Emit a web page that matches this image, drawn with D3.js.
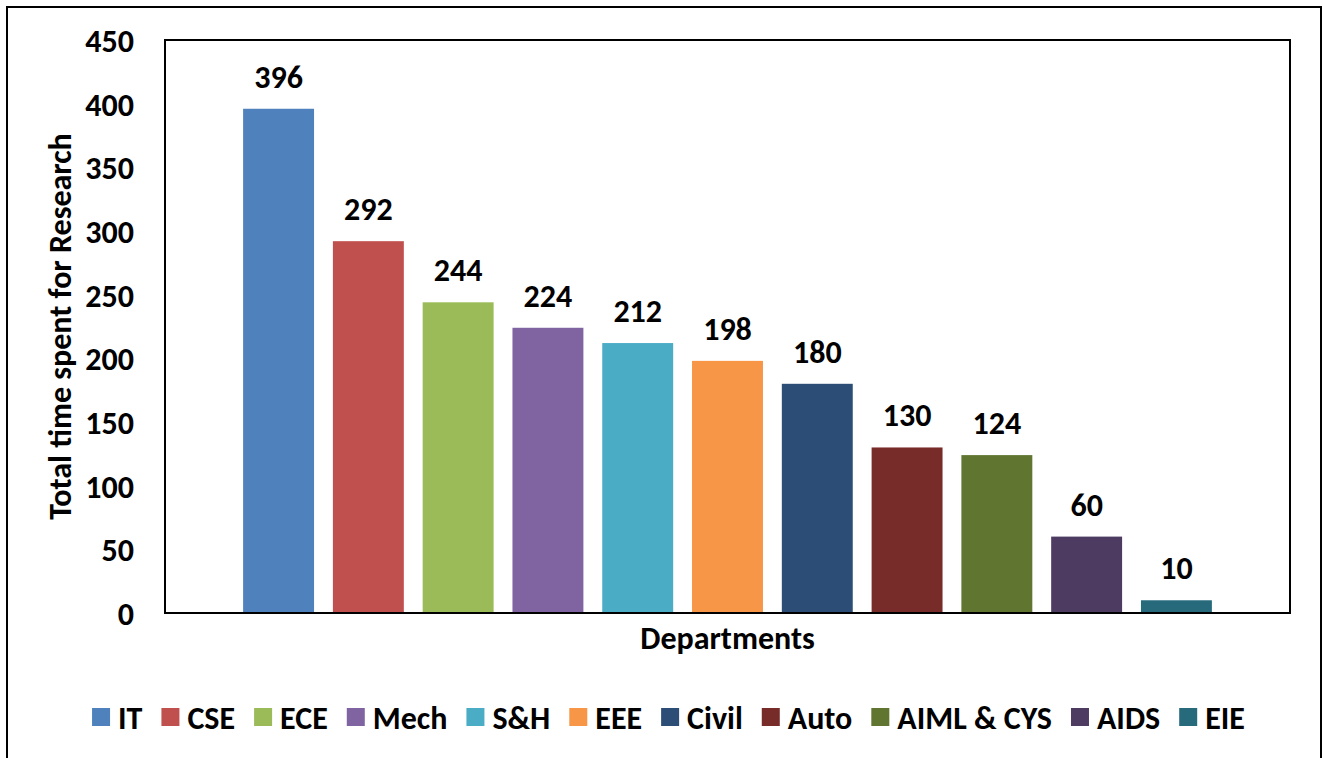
<!DOCTYPE html>
<html>
<head>
<meta charset="utf-8">
<script src="https://cdn.jsdelivr.net/npm/d3@7"></script>
<style>
  body { margin: 0; background: #fff; }
  svg text { font-family: Calibri, Carlito, Lato, sans-serif; font-weight: bold; fill: #000; }
</style>
</head>
<body>
<svg id="chart" width="1323" height="758"></svg>
<script>
const departments = ["IT", "CSE", "ECE", "Mech", "S&H", "EEE", "Civil", "Auto", "AIML & CYS", "AIDS", "EIE"];
const hours = [396, 292, 244, 224, 212, 198, 180, 130, 124, 60, 10];
const colors = ["#4F81BD", "#C0504D", "#9BBB59", "#8064A2", "#4BACC6", "#F79646",
                "#2C4D75", "#772C2A", "#5F7530", "#4D3B62", "#276A7C"];
const yTicks = [0, 50, 100, 150, 200, 250, 300, 350, 400, 450];

const svg = d3.select("#chart");
const plot = { left: 165, right: 1290, top: 40, bottom: 613 };

// outer frame
svg.append("rect")
  .attr("x", 7).attr("y", 7)
  .attr("width", 1314).attr("height", 780)
  .attr("fill", "none")
  .attr("stroke", "#000")
  .attr("stroke-width", 2);

const x = d3.scaleBand()
  .domain(departments)
  .range([plot.left, plot.right])
  .paddingInner(0.21)
  .paddingOuter(0.87);

const y = d3.scaleLinear()
  .domain([0, 450])
  .range([plot.bottom, plot.top]);

// y axis labels
const yAxis = svg.append("g")
  .attr("transform", `translate(${plot.left},0)`)
  .call(d3.axisLeft(y).tickValues(yTicks).tickSize(0).tickPadding(31));
yAxis.select(".domain").remove();
yAxis.selectAll("text")
  .style("font-size", "32px")
  .attr("dy", "0.36em");

// bars
svg.selectAll(".bar")
  .data(departments)
  .join("rect")
  .attr("class", "bar")
  .attr("x", d => x(d))
  .attr("width", x.bandwidth())
  .attr("y", (d, i) => y(hours[i]))
  .attr("height", (d, i) => y(0) - y(hours[i]))
  .attr("fill", (d, i) => colors[i]);

// value labels
svg.selectAll(".val")
  .data(departments)
  .join("text")
  .attr("class", "val")
  .attr("x", d => x(d) + x.bandwidth() / 2)
  .attr("y", (d, i) => y(hours[i]) - 21)
  .attr("text-anchor", "middle")
  .style("font-size", "32px")
  .text((d, i) => hours[i]);

// plot frame
svg.append("rect")
  .attr("x", plot.left).attr("y", plot.top)
  .attr("width", plot.right - plot.left)
  .attr("height", plot.bottom - plot.top)
  .attr("fill", "none")
  .attr("stroke", "#000")
  .attr("stroke-width", 2);

// axis titles
svg.append("text")
  .attr("transform", `translate(71,${(plot.top + plot.bottom) / 2}) rotate(-90)`)
  .attr("text-anchor", "middle")
  .style("font-size", "32px")
  .text("Total time spent for Research");

svg.append("text")
  .attr("x", (plot.left + plot.right) / 2)
  .attr("y", 649)
  .attr("text-anchor", "middle")
  .style("font-size", "32px")
  .text("Departments");

// legend
const legend = svg.append("g");
let lx = 0;
departments.forEach((d, i) => {
  const item = legend.append("g").attr("transform", `translate(${lx},0)`);
  item.append("rect")
    .attr("x", 0).attr("y", -9)
    .attr("width", 18).attr("height", 18)
    .attr("fill", colors[i]);
  const t = item.append("text")
    .attr("x", 26).attr("y", 0)
    .attr("dy", "0.36em")
    .style("font-size", "32px")
    .text(d);
  lx += 26 + t.node().getComputedTextLength() + 19;
});
const legendWidth = lx - 19;
legend.attr("transform", `translate(${92 + (1245 - 92 - legendWidth) / 2},717)`);
</script>
</body>
</html>
